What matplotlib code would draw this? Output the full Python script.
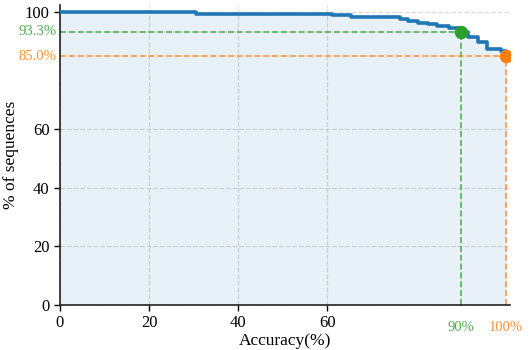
import matplotlib
matplotlib.use("Agg")
import matplotlib.pyplot as plt
import numpy as np

# Survival-style curve: % of sequences with accuracy >= threshold
accuracy = [0, 30.6, 61.1, 65.4, 76.2, 78.2, 80.4, 82.6, 84.6, 87.2, 90.0, 91.6, 93.9, 95.8, 99.0, 100.0]
pct_seq = [100.0, 99.5, 99.0, 98.3, 97.6, 97.0, 96.5, 96.0, 95.4, 94.7, 93.3, 91.6, 89.8, 87.3, 86.9, 85.0]

marks_x = [90, 100]
marks_y = [93.3, 85.0]
mark_colors = ["#2ca02c", "#ff7f0e"]
mark_ylabels = ["93.3%", "85.0%"]
mark_xlabels = ["90%", "100%"]

xticks = [0, 20, 40, 60]
yticks = [0, 20, 40, 60, 100]

plt.rcParams['font.family'] = ['Liberation Serif', 'DejaVu Serif']

fig = plt.figure(figsize=(5.31, 3.5), dpi=100)
ax = fig.add_axes([60/531, 1-305/350, 450/531, 300/350])

ax.fill_between(accuracy, pct_seq, 0, step='post', color='#1f77b4', alpha=0.1, lw=0)
ax.step(accuracy, pct_seq, where='post', color='#1f77b4', lw=2.6, zorder=3)

for mx, my, c, yl, xl in zip(marks_x, marks_y, mark_colors, mark_ylabels, mark_xlabels):
    ax.plot([0, mx], [my, my], ls='--', color=c, lw=1.2, alpha=0.8, zorder=2)
    ax.plot([mx, mx], [0, my], ls='--', color=c, lw=1.2, alpha=0.8, zorder=2)
    ax.scatter([mx], [my], s=75, color=c, zorder=5)
    ax.text(-0.8, my, yl, color=c, alpha=0.85, fontsize=10.5, ha='right', va='center',
            clip_on=False)
    ax.text(mx, -5.5, xl, color=c, alpha=0.85, fontsize=10.5, ha='center', va='top',
            clip_on=False)

ax.set_xlim(0, 101)
ax.set_ylim(0, 102.5)
ax.set_xticks(xticks)
ax.set_yticks(yticks)
ax.tick_params(labelsize=12, length=4, width=1)
ax.grid(True, ls='--', color='#cccccc', alpha=0.7, lw=0.9)
ax.set_axisbelow(True)
for s in ['top', 'right']:
    ax.spines[s].set_visible(False)
for s in ['left', 'bottom']:
    ax.spines[s].set_linewidth(1.2)
    ax.spines[s].set_color('#222222')

ax.set_xlabel('Accuracy(%)', fontsize=12.5, labelpad=1)
ax.set_ylabel('% of sequences', fontsize=12.5, labelpad=4)

fig.savefig('out.png', dpi=100)
